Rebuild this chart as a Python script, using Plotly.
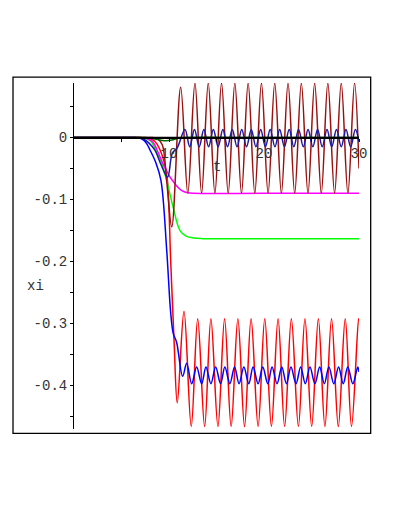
import plotly.graph_objs as go

# values (t, xi)
t_red = [0, 5, 7, 7.5, 8.0, 8.5, 9.06, 9.5, 9.83, 10.18, 10.53, 10.87, 11.58, 12.34, 13.02, 13.75, 14.41,
         15.15, 15.85, 16.54, 17.25, 17.95, 18.64, 19.38, 20.08, 20.78, 21.48, 22.17, 22.88,
         23.62, 24.31, 25.02, 25.72, 26.41, 27.11, 27.82, 28.55, 29.21, 29.95, 30]
xi_red = [0, 0, 0, -0.001, -0.002, -0.006, -0.02, -0.04, -0.069, -0.2, -0.327, -0.428, -0.280, -0.466, -0.292, -0.466, -0.292,
          -0.466, -0.292, -0.466, -0.292, -0.466, -0.292, -0.466, -0.292, -0.466, -0.292, -0.466, -0.292,
          -0.466, -0.292, -0.466, -0.292, -0.466, -0.292, -0.466, -0.292, -0.466, -0.292, -0.296]

t_blue = [0, 5, 6.5, 7.0, 7.4, 7.7, 8.0, 8.6, 9.15, 9.76, 10.18, 10.45, 10.8, 11.44, 11.86, 12.39, 12.91, 13.44,
          13.89, 14.41, 14.91, 15.43, 15.88, 16.41, 16.90, 17.38, 17.88, 18.40, 18.85, 19.38,
          19.87, 20.40, 20.85, 21.37, 21.87, 22.36, 22.84, 23.37, 23.86, 24.35, 24.84, 25.36,
          25.86, 26.35, 26.83, 27.35, 27.85, 28.34, 28.82, 29.35, 29.87, 30]
xi_blue = [0, 0, 0, -0.001, -0.005, -0.011, -0.02, -0.04, -0.069, -0.182, -0.283, -0.316, -0.33, -0.385, -0.364, -0.397, -0.370, -0.397,
           -0.370, -0.397, -0.370, -0.397, -0.370, -0.397, -0.370, -0.397, -0.370, -0.397, -0.370, -0.397,
           -0.370, -0.397, -0.370, -0.397, -0.370, -0.397, -0.370, -0.397, -0.370, -0.397, -0.370, -0.397,
           -0.370, -0.397, -0.370, -0.397, -0.370, -0.397, -0.370, -0.397, -0.370, -0.378]

t_green = [0, 5, 7, 7.5, 8.1, 8.6, 9.2, 9.75, 10.4, 11.16, 11.8, 12.6, 13.5, 20, 30]
xi_green = [0, 0, 0, -0.001, -0.006, -0.02, -0.04, -0.069, -0.11, -0.15, -0.159, -0.162, -0.163, -0.163, -0.163]

t_magenta = [0, 5, 7, 7.6, 8.3, 8.74, 9.3, 9.7, 10.12, 10.5, 10.81, 11.3, 11.97, 12.6, 20, 30]
xi_magenta = [0, 0, 0, -0.001, -0.007, -0.02, -0.04, -0.052, -0.064, -0.072, -0.078, -0.085, -0.089, -0.09, -0.09, -0.09]

t_maroon = [0, 5, 7.5, 8.3, 8.8, 9.3, 9.75, 10.29, 11.23, 11.98, 12.73, 13.43, 14.13, 14.83, 15.53, 16.23,
            16.93, 17.63, 18.33, 19.03, 19.73, 20.43, 21.13, 21.83, 22.53, 23.23, 23.93, 24.63,
            25.33, 26.03, 26.72, 27.43, 28.13, 28.83, 29.53, 30]
xi_maroon = [0, 0, 0, 0, -0.002, -0.012, -0.069, -0.144, 0.081, -0.09, 0.088, -0.09, 0.088, -0.09, 0.088, -0.09,
             0.088, -0.09, 0.088, -0.09, 0.088, -0.09, 0.088, -0.09, 0.088, -0.09, 0.088, -0.09,
             0.088, -0.09, 0.088, -0.09, 0.088, -0.09, 0.088, -0.05]

t_navy = [0, 5, 6.5, 7.0, 7.4, 7.9, 8.5, 9.2, 9.85, 10.35, 10.85, 11.68, 12.18, 12.68, 13.18, 13.67, 14.17,
          14.67, 15.17, 15.67, 16.16, 16.66, 17.16, 17.66, 18.16, 18.66, 19.15, 19.65, 20.15,
          20.65, 21.15, 21.65, 22.15, 22.65, 23.14, 23.64, 24.14, 24.64, 25.14, 25.64, 26.13,
          26.63, 27.13, 27.63, 28.13, 28.63, 29.12, 29.62, 30]
xi_navy = [0, 0, 0, -0.001, -0.003, -0.009, -0.02, -0.045, -0.064, -0.025, -0.017, 0.013, -0.015, 0.013, -0.015, 0.013, -0.015,
           0.013, -0.015, 0.013, -0.015, 0.013, -0.015, 0.013, -0.015, 0.013, -0.015, 0.013, -0.015,
           0.013, -0.015, 0.013, -0.015, 0.013, -0.015, 0.013, -0.015, 0.013, -0.015, 0.013, -0.015,
           0.013, -0.015, 0.013, -0.015, 0.013, -0.015, 0.013, -0.007]

t_darkgreen = [0, 5, 7.5, 8.0, 8.8, 9.5, 10.3, 11.0, 11.6, 20, 30]
xi_darkgreen = [0, 0, 0, -0.001, -0.003, -0.005, -0.004, -0.001, 0, 0, 0]

t_black = [0, 30]
xi_black = [0, 0]

y_ticks = [0, -0.1, -0.2, -0.3, -0.4]
y_tick_text = ["0", "-0.1", "-0.2", "-0.3", "-0.4"]
y_minor = [0.05, -0.05, -0.15, -0.25, -0.35, -0.45]
x_ticks = [10, 20, 30]
x_minor = [5, 15, 25]

curves = [
    (t_red, xi_red, "#ff0000"),
    (t_blue, xi_blue, "#0000ff"),
    (t_green, xi_green, "#00ff00"),
    (t_magenta, xi_magenta, "#ff00ff"),
    (t_maroon, xi_maroon, "#9b0f0f"),
    (t_navy, xi_navy, "#1a1aa0"),
    (t_darkgreen, xi_darkgreen, "#006400"),
    (t_black, xi_black, "#000000"),
]

fig = go.Figure()
for t, xi, c in curves:
    fig.add_trace(go.Scatter(x=t, y=xi, mode="lines",
                             line=dict(color=c, width=1.5, shape="spline", smoothing=1.0)))

font = dict(family="Liberation Mono", size=14, color="#333333")

# page body has an 8px margin, so the figure is sized to fit inside the window
fig.update_layout(
    width=379, height=495,
    margin=dict(l=66, r=28, t=75, b=74),
    paper_bgcolor="white", plot_bgcolor="white",
    showlegend=False,
    font=font,
    xaxis=dict(range=[0, 30], anchor="free", position=0.47 / 0.558,
               showgrid=False, zeroline=False, showline=True, linecolor="black", linewidth=1,
               ticks="outside", ticklen=3, tickcolor="black", tickvals=x_ticks,
               minor=dict(tickvals=x_minor, ticks="outside", ticklen=3, tickcolor="black"),
               tickfont=font),
    yaxis=dict(range=[-0.47, 0.088], showgrid=False, zeroline=False,
               showline=True, linecolor="black", linewidth=1,
               ticks="outside", ticklen=3, tickcolor="black",
               tickvals=y_ticks, ticktext=y_tick_text,
               minor=dict(tickvals=y_minor, ticks="outside", ticklen=3, tickcolor="black"),
               tickfont=font),
)

# Maple-style box around the whole plot
fig.add_shape(type="rect", xref="paper", yref="paper",
              x0=-0.214, x1=1.041, y0=-0.0124, y1=1.017,
              line=dict(color="black", width=1.3))

fig.add_annotation(x=15, y=-0.048, xref="x", yref="y", text="t", showarrow=False, font=font)
fig.add_annotation(x=-0.172, y=-0.24, xref="paper", yref="y", text="xi", showarrow=False, font=font)

fig.write_html("out.html")
